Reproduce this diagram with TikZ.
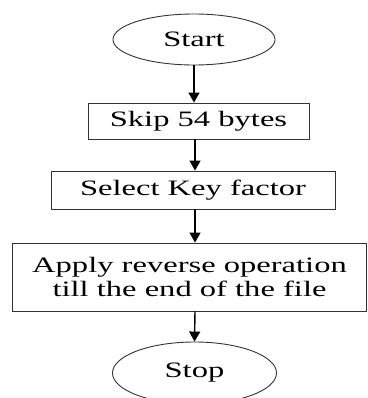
\documentclass[tikz,border=0pt]{standalone}
\usepackage{fontspec}
\setmainfont{Liberation Serif}
\usetikzlibrary{shapes.geometric,arrows.meta}
\newcommand{\wide}[1]{\scalebox{1.48}[1]{#1}}
\begin{document}
\begin{tikzpicture}[x=1pt,y=1pt,
  every node/.style={font=\fontsize{22}{25}\selectfont, text=black, inner sep=0pt},
  term/.style={ellipse, draw=black!80, line width=0.9pt},
  proc/.style={rectangle, draw=black!80, line width=0.9pt},
  flow/.style={draw=black, line width=1.4pt, -{Triangle[length=10pt,width=11pt]}}]
\useasboundingbox (0,0) rectangle (367,-398);
\begin{scope}
\clip (0,0) rectangle (367,-398);
\node[term, minimum width=162pt, minimum height=51pt] (start) at (194,-39.5) {\wide{Start}};
\node[proc, minimum width=221pt, minimum height=36pt] (skip) at (198.5,-121) {\wide{Skip 54 bytes}};
\node[proc, minimum width=284pt, minimum height=38pt] (select) at (193,-190) {\wide{Select Key factor}};
\node[proc, minimum width=354pt, minimum height=68pt] (apply) at (189.5,-277) {\wide{\shortstack{Apply reverse operation\\till the end of the file}}};
\node[term, minimum width=164pt, minimum height=62pt] (stop) at (194.5,-373) {\wide{Stop}};
\draw[flow] (start.south) -- (start.south |- skip.north);
\draw[flow] ([xshift=-3.5pt]skip.south) -- ([xshift=-3.5pt]skip.south |- select.north);
\draw[flow] ([xshift=2pt]select.south) -- ([xshift=2pt]select.south |- apply.north);
\draw[flow] ([xshift=5.5pt]apply.south) -- (stop.north);
\end{scope}
\end{tikzpicture}
\end{document}
